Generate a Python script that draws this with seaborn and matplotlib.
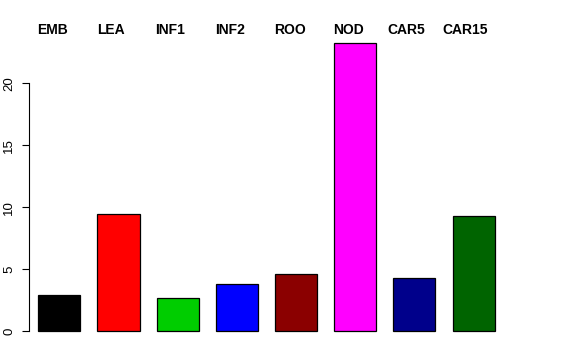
import matplotlib
matplotlib.use("Agg")
import matplotlib.pyplot as plt
import seaborn as sns

# tissue groups and their values
tissues = ["EMB", "LEA", "INF1", "INF2", "ROO", "NOD", "CAR5", "CAR15"]
values = [2.9, 9.45, 2.65, 3.8, 4.6, 23.3, 4.3, 9.25]
colors = ["#000000", "#FF0000", "#00CD00", "#0000FF", "#8B0000", "#FF00FF", "#00008B", "#006400"]
yticks = [0, 5, 10, 15, 20]
# left edge of each name across the top, in bar units (not quite regular in the original)
label_x = [-0.372, 0.632, 1.617, 2.63, 3.63, 4.62, 5.535, 6.48]

sns.set_style("white")
plt.rcParams["font.family"] = ["Liberation Sans", "DejaVu Sans"]
plt.rcParams["text.color"] = "black"
plt.rcParams["ytick.color"] = "black"
plt.rcParams["ytick.labelcolor"] = "black"

W, H = 576, 360
fig = plt.figure(figsize=(W / 100, H / 100), dpi=100)
# axes placed in pixels: left 29, right 550, top 32, bottom 342
ax = fig.add_axes([29 / W, 1 - 342 / H, (550 - 29) / W, (342 - 32) / H])

sns.barplot(x=tissues, y=values, hue=tissues, palette=colors, width=0.71,
            edgecolor="black", linewidth=0.9, legend=False, saturation=1, ax=ax)

ax.set_xlim(-0.512, 8.29)
ax.set_ylim(-0.89, 24.15)

# R style axis: only the left one, spanning the ticks
for s in ["top", "right", "bottom"]:
    ax.spines[s].set_visible(False)
ax.spines["left"].set_bounds(0, 20)
ax.spines["left"].set_color("black")
ax.spines["left"].set_linewidth(0.8)
ax.set_yticks(yticks)
ax.set_yticklabels([str(t) for t in yticks], rotation=90, va="center", fontsize=9.5)
ax.tick_params(axis="y", left=True, length=5, width=0.8, pad=5, color="black")
ax.set_xticks([])
ax.set_xlabel("")
ax.set_ylabel("")

# group names written across the top
for x, name in zip(label_x, tissues):
    ax.text(x, 24.3, name, ha="left", va="center", fontsize=10,
            fontweight="bold", color="black", clip_on=False)

fig.savefig("out.png", dpi=100)
